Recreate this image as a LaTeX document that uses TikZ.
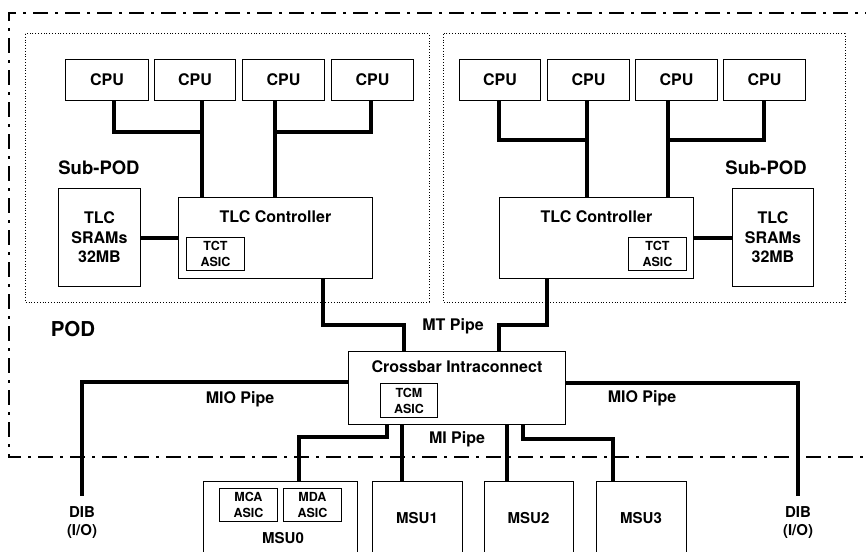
\documentclass[tikz,border=0pt]{standalone}
\usepackage{fontspec}
\setmainfont{TeX Gyre Heros}
\newcommand\rbox[6][]{\node[box,#1,minimum width={#5pt-#3pt},minimum height={#6pt-#4pt}] (#2) at (#3,#4) {};}
\begin{document}
\begin{tikzpicture}[x=1pt,y=-1pt,line join=miter,
  box/.style={draw,line width=0.9pt,inner sep=0pt,anchor=north west},
  txt/.style={font=\fontsize{16}{19.5}\selectfont\bfseries,align=center,inner sep=0pt},
  small/.style={font=\fontsize{12.5}{16}\selectfont\bfseries,align=center,inner sep=0pt},
  msut/.style={font=\fontsize{15}{18}\selectfont\bfseries,align=center,inner sep=0pt},
  big/.style={font=\fontsize{18.5}{22}\selectfont\bfseries,inner sep=0pt},
  pipe/.style={line width=4pt},
  podline/.style={line width=2.5pt,dash pattern=on 15pt off 7pt on 3pt off 7pt,dash phase=14pt},
  subpod/.style={line width=1pt,dash pattern=on 1pt off 1.8pt}]
\clip (0,0) rectangle (866,551);
\fill[white] (0,0) rectangle (866,551);
% POD boundary
\draw[podline] (866,13) -- (9,13) -- (9,457) -- (866,457);
% Sub-POD boundaries
\draw[subpod] (25,34) rectangle (429,302);
\draw[subpod] (443,34) rectangle (845,302);
% CPUs
\rbox{c1}{65}{59}{148}{100}
\rbox{c2}{154}{59}{235}{100}
\rbox{c3}{242}{59}{324}{100}
\rbox{c4}{331}{59}{413}{100}
\rbox{c5}{459}{59}{540}{100}
\rbox{c6}{547}{59}{629}{100}
\rbox{c7}{635}{59}{717}{100}
\rbox{c8}{723}{59}{805}{100}
\foreach \c in {c1,c2,c3,c4,c5,c6,c7,c8}{\node[txt] (\c t) at (\c) {CPU};}
% SRAMs
\rbox{sramL}{58}{188}{140}{286}
\rbox{sramR}{732}{188}{813}{286}
\node[txt] (sramLt) at (sramL) {TLC\\SRAMs\\32MB};
\node[txt] (sramRt) at (sramR) {TLC\\SRAMs\\32MB};
% TLC controllers
\rbox{tlcL}{178}{197}{372}{278}
\rbox{tlcR}{499}{197}{693}{278}
\node[txt] (tlcLt) at ([yshift=-20pt]tlcL.north) {TLC Controller};
\node[txt] (tlcRt) at ([yshift=-20pt]tlcR.north) {TLC Controller};
\rbox{tctL}{186}{237}{244}{270}
\rbox{tctR}{628}{237}{686}{270}
\node[small] (tctLt) at (tctL) {TCT\\ASIC};
\node[small] (tctRt) at (tctR) {TCT\\ASIC};
% Crossbar
\rbox{xb}{348}{351}{565}{424}
\node[txt] (xbt) at ([yshift=-16pt]xb.north) {Crossbar Intraconnect};
\rbox{tcm}{380}{383}{437}{417}
\node[small] (tcmt) at (tcm) {TCM\\ASIC};
% MSUs
\rbox{msu0}{203}{481}{357}{565}
\rbox{msu1}{372}{481}{462}{565}
\rbox{msu2}{484}{481}{573}{565}
\rbox{msu3}{596}{481}{686}{565}
\rbox{mca}{219}{488}{277}{521}
\rbox{mda}{283}{488}{341}{521}
\node[small] (mcat) at (mca) {MCA\\ASIC};
\node[small] (mdat) at (mda) {MDA\\ASIC};
\node[msut] (msu0t) at (283,538) {MSU0};
\node[msut] (msu1t) at (417,518) {MSU1};
\node[msut] (msu2t) at (528.5,518) {MSU2};
\node[msut] (msu3t) at (641,518) {MSU3};
% Labels
\node[big] (spL) at (99,168) {Sub-POD};
\node[big] (spR) at (766,168) {Sub-POD};
\node[font=\fontsize{20.5}{24}\selectfont\bfseries,inner sep=0pt] (pod) at (73,329) {POD};
\node[txt] (mt) at (453,326) {MT Pipe};
\node[txt] (mi) at (457,439) {MI Pipe};
\node[txt] (mioL) at (240,399) {MIO Pipe};
\node[txt] (mioR) at (642,398) {MIO Pipe};
\node[msut] (dibL) at (82,523) {DIB\\(I/O)};
\node[msut] (dibR) at (798,523) {DIB\\(I/O)};
% CPU buses
\coordinate (j1) at (202,132);
\coordinate (j2) at (275,132);
\coordinate (j3) at (587,140);
\coordinate (j4) at (668,140);
\draw[pipe] (c1.south -| 114,0) |- (j1);
\draw[pipe] (c2.south -| j1) -- (tlcL.north -| j1);
\draw[pipe] (c4.south -| 371,0) |- (j2);
\draw[pipe] (c3.south -| j2) -- (tlcL.north -| j2);
\draw[pipe] (c5.south -| 499,0) |- (j3);
\draw[pipe] (c6.south -| j3) -- (tlcR.north -| j3);
\draw[pipe] (c8.south -| 764,0) |- (j4);
\draw[pipe] (c7.south -| j4) -- (tlcR.north -| j4);
% SRAM links
\draw[pipe] (sramL.east |- 0,238) -- (tlcL.west |- 0,238);
\draw[pipe] (tlcR.east |- 0,238) -- (sramR.west |- 0,238);
% MT pipes
\coordinate (mtL) at (404,325);
\coordinate (mtR) at (499,325);
\draw[pipe] (tlcL.south -| 323,0) |- (mtL) -- (xb.north -| mtL);
\draw[pipe] (tlcR.south -| 547,0) |- (mtR) -- (xb.north -| mtR);
% MIO pipes
\coordinate (dibLe) at (82,496);
\coordinate (dibRe) at (798,496);
\draw[pipe] (xb.west |- 0,382) -| (dibLe);
\draw[pipe] (xb.east |- 0,383) -| (dibRe);
% MI pipes
\coordinate (mi0) at (299,437);
\coordinate (mi3) at (613,439);
\draw[pipe] (xb.south -| 387,0) |- (mi0) -- (msu0.north -| mi0);
\draw[pipe] (xb.south -| 402,0) -- (msu1.north -| 402,0);
\draw[pipe] (xb.south -| 507,0) -- (msu2.north -| 507,0);
\draw[pipe] (xb.south -| 523,0) |- (mi3) -- (msu3.north -| mi3);
\end{tikzpicture}
\end{document}
